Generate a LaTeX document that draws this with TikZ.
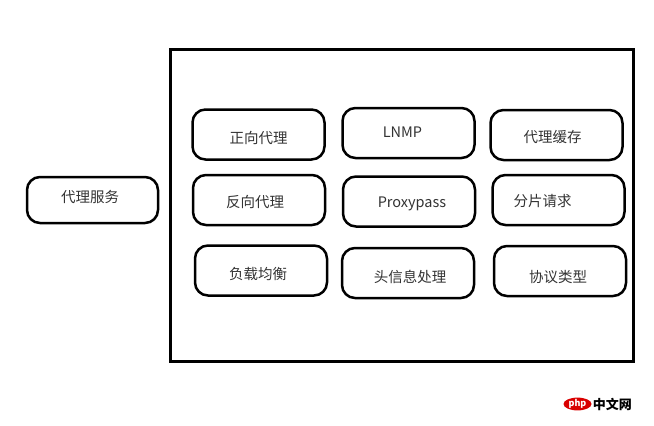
\documentclass[tikz,border=0pt]{standalone}
\usepackage{fontspec}
\setmainfont{Noto Sans CJK SC}
\usetikzlibrary{positioning,shapes.geometric}

\begin{document}
\begin{tikzpicture}[x=1pt,y=-1pt,
  item/.style={draw,line width=2.5pt,rounded corners=13pt,minimum width=132pt,minimum height=50pt,inner sep=0pt,text=black!80,font=\fontsize{14.5}{17}\selectfont},
  frame/.style={draw,line width=3pt}]
\useasboundingbox (0,0) rectangle (654,426);

\node[item,minimum width=131pt,minimum height=46pt] (proxy) at (92.5,200) {};
\node[text=black!80,font=\fontsize{14.5}{17}\selectfont] (proxytxt) at (90,197) {代理服务};

\draw[frame] (170,49) rectangle (633,361);

% grid of features
\foreach \name/\x/\y/\dx/\dy/\txt in {
  forward/258.5/134.5/0/3/正向代理,
  lnmp/408.5/133/-6/-1/LNMP,
  cache/556.5/135/-4/2/代理缓存,
  reverse/259/200/-4/2/反向代理,
  proxypass/409/201.5/3/2/Proxypass,
  slice/558.5/200/-16/1/分片请求,
  balance/261/270.5/-3/3/负载均衡,
  header/408/273/2/4/头信息处理,
  protocol/560/271/-2/6/协议类型} {
  \node[item] (\name) at (\x,\y) {};
  \node[text=black!80,font=\fontsize{14.5}{17}\selectfont] (\name txt) at (\x+\dx,\y+\dy) {\txt};
}

% watermark
\node[fill=red!85!black,ellipse,inner sep=0pt,minimum width=28pt,minimum height=11pt,text=white,font=\bfseries\fontsize{9}{9}\selectfont] (php) at (577.5,404) {php};
\node[right=1pt of php,font=\bfseries\fontsize{13}{13}\selectfont,inner sep=0pt] (cn) {中文网};
\end{tikzpicture}
\end{document}
